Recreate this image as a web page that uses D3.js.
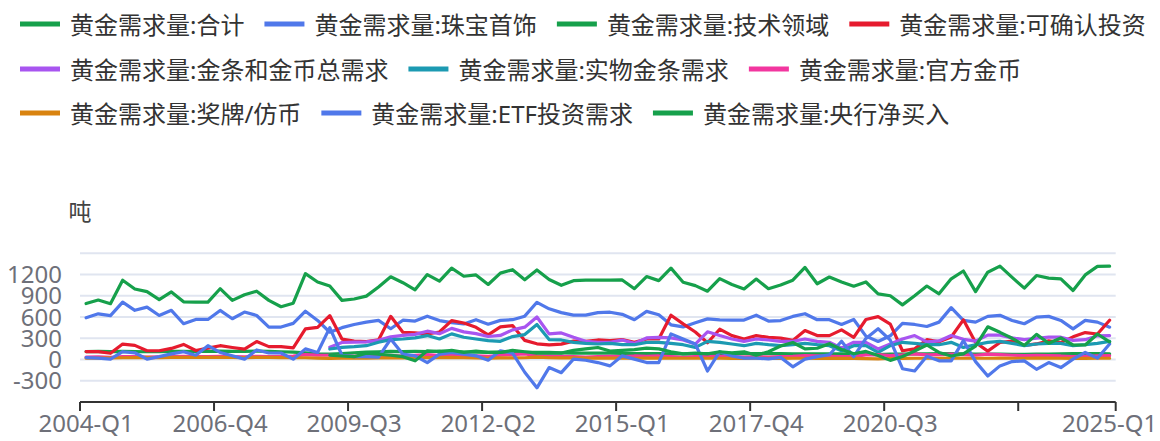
<!DOCTYPE html>
<html><head><meta charset="utf-8">
<script src="https://cdn.jsdelivr.net/npm/d3@7/dist/d3.min.js"></script>
<style>
html,body{margin:0;padding:0;background:#fff;}
svg{display:block;font-family:"Noto Sans","Noto Sans CJK SC",sans-serif;}
</style></head>
<body>
<svg id="chart" width="1160" height="441"></svg>
<script>
const categories = [
"2004-Q1","2004-Q2","2004-Q3","2004-Q4","2005-Q1","2005-Q2","2005-Q3","2005-Q4",
"2006-Q1","2006-Q2","2006-Q3","2006-Q4","2007-Q1","2007-Q2","2007-Q3","2007-Q4",
"2008-Q1","2008-Q2","2008-Q3","2008-Q4","2009-Q1","2009-Q2","2009-Q3","2009-Q4",
"2010-Q1","2010-Q2","2010-Q3","2010-Q4","2011-Q1","2011-Q2","2011-Q3","2011-Q4",
"2012-Q1","2012-Q2","2012-Q3","2012-Q4","2013-Q1","2013-Q2","2013-Q3","2013-Q4",
"2014-Q1","2014-Q2","2014-Q3","2014-Q4","2015-Q1","2015-Q2","2015-Q3","2015-Q4",
"2016-Q1","2016-Q2","2016-Q3","2016-Q4","2017-Q1","2017-Q2","2017-Q3","2017-Q4",
"2018-Q1","2018-Q2","2018-Q3","2018-Q4","2019-Q1","2019-Q2","2019-Q3","2019-Q4",
"2020-Q1","2020-Q2","2020-Q3","2020-Q4","2021-Q1","2021-Q2","2021-Q3","2021-Q4",
"2022-Q1","2022-Q2","2022-Q3","2022-Q4","2023-Q1","2023-Q2","2023-Q3","2023-Q4",
"2024-Q1","2024-Q2","2024-Q3","2024-Q4","2025-Q1"];

const total = [
790,840,788,1120,995,958,846,955,815,810,810,1000,835,915,965,835,745,
795,1212,1095,1038,835,855,895,1025,1168,1085,985,1200,1108,1290,1176,1195,1060,
1220,1268,1125,1265,1130,1048,1114,1122,1122,1122,1124,1000,1171,1114,1290,1092,1044,
965,1142,1060,996,1136,1000,1052,1120,1300,1070,1165,1095,1035,1095,928,900,772,
900,1038,928,1140,1250,958,1233,1318,1160,1008,1186,1150,1140,975,1195,1315,1318];

const jewelry = [
590,645,620,810,695,740,622,695,505,566,566,693,576,670,622,458,458,
510,682,552,385,450,495,528,552,435,555,543,612,550,522,502,562,498,
553,562,612,808,716,662,626,626,662,668,638,562,680,633,490,460,520,
574,560,555,557,626,543,550,609,647,562,562,495,566,330,255,335,510,
495,466,528,733,552,528,609,624,552,505,600,609,552,433,552,528,457];

const technology = [
112,115,112,115,112,110,112,115,115,113,115,118,115,115,118,115,110,
105,95,80,75,85,95,105,110,115,112,115,113,118,115,105,105,100,
105,100,100,100,100,95,90,90,90,90,88,85,85,82,80,80,80,
82,82,80,82,85,82,82,80,80,80,80,80,80,75,70,75,78,
80,80,82,85,80,78,78,75,73,72,75,78,80,82,82,84,80];

const investment = [
112,112,88,218,200,124,124,157,213,128,160,195,170,147,254,182,182,
164,432,455,620,289,261,254,277,610,385,375,360,389,550,516,455,349,
460,479,270,222,208,218,260,257,276,267,281,243,290,290,626,503,388,
237,428,337,290,337,312,302,270,409,338,338,419,314,565,605,500,124,
150,280,250,318,560,240,118,240,260,200,220,265,240,320,380,360,555];

const barCoin = [
null,null,null,null,null,null,null,null,null,null,null,null,null,null,null,null,null,
null,null,null,175,240,245,250,270,320,340,355,400,365,440,390,365,325,
340,419,457,600,362,376,314,257,243,243,276,228,305,314,305,276,219,
392,338,290,257,290,276,257,257,290,257,243,160,243,243,150,219,290,
338,250,262,338,285,260,345,345,305,280,300,315,315,270,280,335,338];

const physicalBar = [
null,null,null,null,null,null,null,null,null,null,null,null,null,null,null,null,null,
null,null,null,148,171,181,195,243,281,290,305,338,290,362,314,290,267,
257,324,352,495,281,276,243,228,219,228,209,209,243,243,228,209,171,
257,243,219,195,228,209,195,209,228,209,195,124,195,195,100,195,243,
228,209,209,243,171,209,243,257,228,195,219,228,228,195,209,228,257];

const officialCoin = [
35,38,30,42,40,35,38,40,45,40,42,45,40,38,45,42,45,
48,70,62,60,50,45,55,50,60,50,60,70,55,70,55,50,45,
60,70,80,55,50,45,40,35,40,45,40,50,45,50,40,30,40,
45,45,40,35,40,35,40,45,55,50,45,40,45,65,70,55,65,
80,65,70,75,70,60,75,70,60,55,60,55,50,40,45,50,55];

const medals = [
18,20,22,25,28,30,28,30,32,30,30,32,30,28,30,30,28,
25,25,20,15,18,20,20,22,22,22,25,28,28,30,25,22,20,
22,22,25,35,25,22,22,20,20,20,20,18,20,20,18,18,18,
18,18,17,17,18,17,17,18,18,17,17,16,16,12,10,14,16,
18,18,18,20,18,18,18,20,18,18,20,20,18,16,16,18,18];

const etf = [
28,20,5,110,95,5,40,80,110,60,195,100,52,5,135,92,92,
5,150,100,450,60,40,40,35,290,76,52,-43,76,100,76,52,-10,
124,90,-180,-400,-114,-186,5,-10,-43,-90,52,5,-43,-43,362,290,219,
-162,110,50,20,20,10,30,-103,5,40,67,258,40,298,434,273,-130,
-162,45,-19,-20,267,-30,-233,-90,-29,-19,-138,-43,-114,5,100,19,219];

const centralBank = [
null,null,null,null,null,null,null,null,null,null,null,null,null,null,null,null,null,
null,null,null,60,50,40,90,76,60,40,-19,124,110,130,100,120,100,
100,130,110,90,93,90,130,150,170,120,130,140,160,150,110,80,90,
80,110,95,110,60,110,190,240,150,159,224,141,81,114,58,-12,43,
120,205,100,50,80,190,462,384,300,200,355,229,305,205,205,360,250];

const seriesNames = ["黄金需求量:合计","黄金需求量:珠宝首饰","黄金需求量:技术领域","黄金需求量:可确认投资",
"黄金需求量:金条和金币总需求","黄金需求量:实物金条需求","黄金需求量:官方金币",
"黄金需求量:奖牌/仿币","黄金需求量:ETF投资需求","黄金需求量:央行净买入"];
const seriesValues = [total, jewelry, technology, investment, barCoin, physicalBar, officialCoin, medals, etf, centralBank];
const seriesColors = ["#16a04b","#5078ea","#16a04b","#e61b2e","#a855f0","#1c9ab2","#f2369f","#d9830f","#5078ea","#16a04b"];

const yTickLabels = [-300, 0, 300, 600, 900, 1200];
const yGridValues = [-300, 0, 300, 600, 900, 1200, 1500];
const xLabelIndex = [0, 11, 22, 33, 44, 55, 66, 84];
const xTickIndex = [0, 11, 22, 33, 44, 55, 66, 77];
const unitLabel = "吨";

const svg = d3.select("#chart");
const x = d3.scaleBand().domain(categories).range([80, 1115.7]).paddingInner(0).paddingOuter(0);
const y = d3.scaleLinear().domain([-600, 1500]).range([402, 253.3]);
const cx = c => x(c) + x.bandwidth() / 2;

// grid
svg.append("g").selectAll("line").data(yGridValues).join("line")
  .attr("x1", x.range()[0]).attr("x2", x.range()[1])
  .attr("y1", d => y(d)).attr("y2", d => y(d))
  .attr("stroke", "#e0e5f0").attr("stroke-width", 2);

// y labels
svg.append("g").selectAll("text").data(yTickLabels).join("text")
  .attr("x", 62).attr("y", d => y(d) - 1)
  .attr("text-anchor", "end").attr("dominant-baseline", "central")
  .attr("font-size", 24).attr("fill", "#6e7079").text(d => d);

svg.append("text").attr("x", 80).attr("y", 220).attr("text-anchor", "middle")
  .attr("font-size", 23).attr("fill", "#444").text(unitLabel);

// lines
const line = d3.line()
  .defined(d => d.v != null)
  .x(d => cx(d.c)).y(d => y(d.v));
seriesValues.forEach((vals, k) => {
  svg.append("path")
    .datum(vals.map((v, i) => ({c: categories[i], v})))
    .attr("d", line).attr("fill", "none")
    .attr("stroke", seriesColors[k]).attr("stroke-width", 3.2)
    .attr("stroke-linejoin", "round").attr("stroke-linecap", "round");
});

// x axis
const ax = svg.append("g");
ax.append("line").attr("x1", x.range()[0]).attr("x2", x.range()[1])
  .attr("y1", y(-600)).attr("y2", y(-600)).attr("stroke", "#333").attr("stroke-width", 2);
const tickXs = xTickIndex.map(i => x(categories[i])).concat([x.range()[1]]);
ax.selectAll("line.tick").data(tickXs).join("line").attr("class", "tick")
  .attr("x1", d => d).attr("x2", d => d).attr("y1", y(-600)).attr("y2", y(-600) + 9)
  .attr("stroke", "#333").attr("stroke-width", 2);
ax.selectAll("text").data(xLabelIndex).join("text")
  .attr("x", i => cx(categories[i])).attr("y", 432)
  .attr("text-anchor", "middle").attr("font-size", 24).attr("fill", "#6e7079")
  .text(i => categories[i]);

// legend
const lg = svg.append("g");
let lx = 20, row = 0;
const rowY = [24, 69, 113];
seriesNames.forEach((name, k) => {
  const g = lg.append("g");
  const t = g.append("text").attr("x", 50).attr("y", 0).attr("dominant-baseline", "central")
    .attr("font-size", 24).attr("fill", "#333").text(name);
  const w = 50 + t.node().getComputedTextLength();
  if (lx + w > 1158) { row++; lx = 20; }
  g.append("rect").attr("x", 0).attr("y", -2.5).attr("width", 40).attr("height", 5)
    .attr("fill", seriesColors[k]);
  g.attr("transform", `translate(${lx},${rowY[row]})`);
  lx += w + 20;
});
</script>
</body></html>
